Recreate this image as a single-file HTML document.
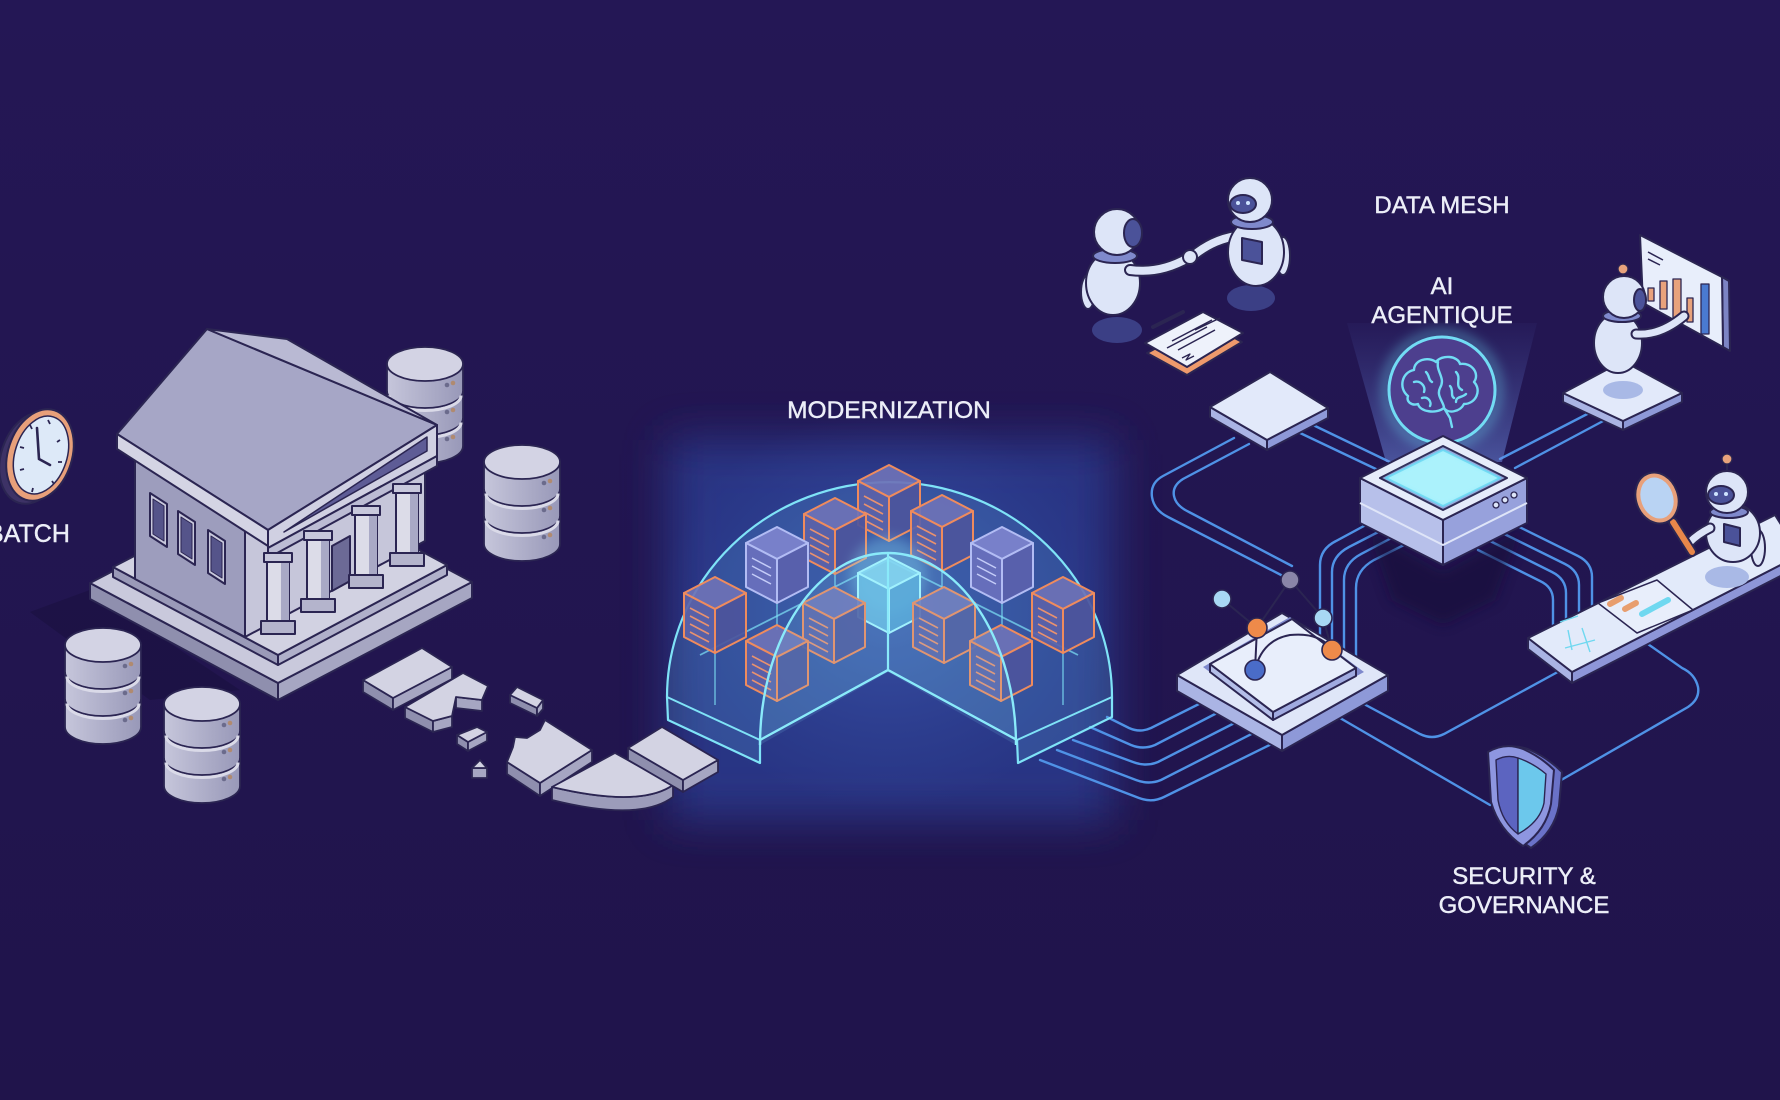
<!DOCTYPE html>
<html><head><meta charset="utf-8"><style>
html,body{margin:0;padding:0;background:#221651;}
svg{display:block;}
text{font-family:"Liberation Sans",sans-serif;fill:#eceef8;stroke:#eceef8;stroke-width:0.45;}
</style></head><body>
<svg width="1780" height="1100" viewBox="0 0 1780 1100" xmlns="http://www.w3.org/2000/svg">
<defs>
 <linearGradient id="bg" x1="0" y1="0" x2="0" y2="1"><stop offset="0" stop-color="#241755"/><stop offset="1" stop-color="#20144b"/></linearGradient>
 <radialGradient id="glowc" cx="0.5" cy="0.5" r="0.5"><stop offset="0" stop-color="#4a6fc8" stop-opacity="0.5"/><stop offset="1" stop-color="#3a58b0" stop-opacity="0"/></radialGradient>
 <filter id="b25" x="-50%" y="-50%" width="200%" height="200%"><feGaussianBlur stdDeviation="22"/></filter>
 <filter id="b6" x="-50%" y="-50%" width="200%" height="200%"><feGaussianBlur stdDeviation="6"/></filter>
 <filter id="b3" x="-50%" y="-50%" width="200%" height="200%"><feGaussianBlur stdDeviation="3"/></filter>
 <linearGradient id="cyl" x1="0" x2="1" y1="0" y2="0"><stop offset="0" stop-color="#c6c6db"/><stop offset="1" stop-color="#9898b8"/></linearGradient>
 <linearGradient id="beam" x1="0" y1="0" x2="0" y2="1"><stop offset="0" stop-color="#5a6cc8" stop-opacity="0.05"/><stop offset="1" stop-color="#7090e6" stop-opacity="0.5"/></linearGradient>
 <g id="db" stroke="#2b2552" stroke-width="1.8">
  <path d="M0,17 L0,99 A38,17 0 0 0 76,99 L76,17 Z" fill="url(#cyl)"/>
  <path d="M0,44 A38,17 0 0 0 76,44" fill="none"/>
  <path d="M2,48.5 A36,15 0 0 0 74,48.5" fill="none" stroke="#dadae8" stroke-width="3"/>
  <path d="M0,71 A38,17 0 0 0 76,71" fill="none"/>
  <path d="M2,75.5 A36,15 0 0 0 74,75.5" fill="none" stroke="#dadae8" stroke-width="3"/>
  <ellipse cx="38" cy="17" rx="38" ry="17" fill="#d3d3e4"/>
  <circle cx="60" cy="38" r="2.3" fill="#6b6b8c" stroke="none"/><circle cx="66" cy="36" r="2.3" fill="#b08a70" stroke="none"/>
  <circle cx="60" cy="65" r="2.3" fill="#6b6b8c" stroke="none"/><circle cx="66" cy="63" r="2.3" fill="#b08a70" stroke="none"/>
  <circle cx="60" cy="92" r="2.3" fill="#6b6b8c" stroke="none"/><circle cx="66" cy="90" r="2.3" fill="#b08a70" stroke="none"/>
 </g>
 <g id="cO" stroke="#ef8b5d" stroke-width="2" stroke-linejoin="round">
  <path d="M0,0 L31,16 L0,32 L-31,16 Z" fill="#6e72b6" fill-opacity="0.92"/>
  <path d="M-31,16 L0,32 L0,76 L-31,60 Z" fill="#5b62a8" fill-opacity="0.92"/>
  <path d="M0,32 L31,16 L31,60 L0,76 Z" fill="#4d559c" fill-opacity="0.92"/>
  <path d="M-25,31 L-6,41 M-25,39 L-6,49 M-25,47 L-6,57 M-25,55 L-6,65" stroke="#e9916e" stroke-width="1.6" fill="none"/>
 </g>
 <g id="cL" stroke="#b2bcf4" stroke-width="2" stroke-linejoin="round">
  <path d="M0,0 L31,16 L0,32 L-31,16 Z" fill="#7880ca"/>
  <path d="M-31,16 L0,32 L0,76 L-31,60 Z" fill="#666ebb"/>
  <path d="M0,32 L31,16 L31,60 L0,76 Z" fill="#5860ac"/>
  <path d="M-25,31 L-6,41 M-25,39 L-6,49 M-25,47 L-6,57" stroke="#c4ccf8" stroke-width="1.5" fill="none"/>
 </g>
 <g id="cC" stroke="#a6f6ff" stroke-width="2" stroke-linejoin="round">
  <path d="M0,0 L31,16 L0,32 L-31,16 Z" fill="#86d8f2" fill-opacity="0.85"/>
  <path d="M-31,16 L0,32 L0,76 L-31,60 Z" fill="#68bde4" fill-opacity="0.85"/>
  <path d="M0,32 L31,16 L31,60 L0,76 Z" fill="#55a8d8" fill-opacity="0.85"/>
 </g>
</defs>

<rect width="1780" height="1100" fill="url(#bg)"/>

<!-- glow behind modernization -->
<rect x="668" y="440" width="446" height="380" fill="#2a3a8e" opacity="0.85" filter="url(#b25)"/>
<ellipse cx="888" cy="610" rx="230" ry="200" fill="url(#glowc)"/>

<!-- ================= connectors ================= -->
<g fill="none" stroke="#4f92e6" stroke-width="2.4" stroke-linecap="round">
 <path d="M1107,717 L1129,728 Q1140,733 1151,728 L1235,686"/>
 <path d="M1090,727 L1131,745 Q1143,750 1155,745 L1248,697"/>
 <path d="M1073,740 L1133,762 Q1146,767 1158,762 L1262,709"/>
 <path d="M1057,750 L1136,780 Q1149,785 1161,780 L1275,722"/>
 <path d="M1040,760 L1139,798 Q1152,803 1164,797 L1290,735"/>
 <path d="M1234,438 L1163,476 Q1150,483 1152,497 Q1154,510 1168,517 L1283,576"/>
 <path d="M1249,444 L1183,479 Q1172,486 1174,496 Q1176,506 1189,512 L1292,566"/>
 <path d="M1298,432 L1378,470"/>
 <path d="M1313,425 L1392,463"/>
 <path d="M1375,520 L1336,541 Q1320,549 1320,565 L1320,660"/>
 <path d="M1388,527 L1349,547 Q1332,556 1332,572 L1332,665"/>
 <path d="M1401,533 L1361,554 Q1344,563 1344,580 L1344,670"/>
 <path d="M1414,540 L1374,560 Q1356,570 1356,588 L1356,675"/>
 <path d="M1500,459 L1595,410"/>
 <path d="M1515,468 L1605,420"/>
 <path d="M1478,550 L1540,581 Q1553,587 1553,600 L1553,650"/>
 <path d="M1484,538 L1552,572 Q1566,579 1566,593 L1566,650"/>
 <path d="M1490,527 L1565,564 Q1579,571 1579,585 L1579,645"/>
 <path d="M1495,515 L1578,556 Q1592,563 1592,577 L1592,640"/>
 <path d="M1362,703 L1420,734 Q1432,740 1444,734 L1565,668"/>
 <path d="M1340,718 L1490,805"/>
 <path d="M1556,783 L1688,707 Q1700,699 1698,687 Q1695,674 1682,668 L1645,642"/>
</g>

<!-- ================= dome ================= -->
<g stroke-linejoin="round">
 <path d="M667,697 A222.5,215 0 0 1 1112,697 L1112,717 L1018,763 L1017,740 L888,670 L760,740 L760,763 L668,720 Z" fill="#5aa8e0" fill-opacity="0.22" stroke="#7fe3f7" stroke-width="2.2"/>
 <path d="M667,697 L760,740 M1112,697 L1017,740" fill="none" stroke="#7fe3f7" stroke-width="2"/>
 <path d="M700,655 L888,560 L1078,655" fill="none" stroke="#7fe3f7" stroke-width="1.8" opacity="0.7"/>
 <path d="M715,653 L715,705 M777,603 L777,630 M1002,603 L1002,630 M1063,653 L1063,705 M835,574 L835,590 M942,571 L942,590" stroke="#7fe3f7" stroke-width="1.5" opacity="0.7"/>
 <use href="#cO" x="889" y="465"/>
 <use href="#cO" x="835" y="498"/>
 <use href="#cO" x="942" y="495"/>
 <use href="#cL" x="777" y="527"/>
 <use href="#cL" x="1002" y="527"/>
 <use href="#cO" x="715" y="577"/>
 <use href="#cO" x="1063" y="577"/>
 <circle cx="888" cy="575" r="38" fill="#8ff0ff" opacity="0.3" filter="url(#b6)"/>
 <use href="#cC" x="889" y="557"/>
 <use href="#cO" x="834" y="587"/>
 <use href="#cO" x="944" y="587"/>
 <use href="#cO" x="777" y="625"/>
 <use href="#cO" x="1001" y="625"/>
 <path d="M760,745 A128,192 0 0 1 1016,745 L888,672 Z" fill="#86d6f4" fill-opacity="0.14" stroke="none"/>
 <path d="M760,745 A128,192 0 0 1 1016,745" fill="none" stroke="#8aeafa" stroke-width="2.4"/>
 <path d="M760,740 L888,670 L1017,740 M888,553 L888,670" fill="none" stroke="#8aeafa" stroke-width="2.2"/>
</g>

<!-- ================= left: clock ================= -->
<g stroke="#2b2552" stroke-linejoin="round">
 <ellipse cx="33" cy="458" rx="32" ry="47" transform="rotate(18 33 458)" fill="#3d3266" stroke-width="2"/>
 <ellipse cx="40" cy="455" rx="32" ry="47" transform="rotate(18 40 455)" fill="#e8a07a" stroke-width="2"/>
 <ellipse cx="41" cy="455" rx="26" ry="40" transform="rotate(18 41 455)" fill="#dde9f8" stroke-width="1.5"/>
 <path d="M48,420 L50,424 M60,440 L57,442 M62,462 L58,462 M54,484 L52,481 M32,492 L33,488 M20,470 L24,469 M20,447 L24,448 M30,425 L32,429" stroke-width="1.8"/>
 <path d="M39,459 L37,428 M39,459 L50,465" stroke-width="2.6" stroke-linecap="round" fill="none"/>
</g>
<text x="-13" y="542" font-size="25">BATCH</text>

<use href="#db" x="387" y="347"/>

<!-- ================= building ================= -->
<g stroke="#2b2552" stroke-width="2" stroke-linejoin="round">
 <polygon points="30,612 90,590 240,690 150,700" fill="#180f3c" stroke="none" opacity="0.5"/>
 <polygon points="90,583 278,683 278,700 90,599" fill="#8f8fae"/>
 <polygon points="278,683 472,582 472,598 278,700" fill="#a6a6c2"/>
 <polygon points="90,583 284,482 472,582 278,683" fill="#c9c9dc"/>
 <polygon points="113,567 278,655 278,665 113,577" fill="#9a9ab8"/>
 <polygon points="278,655 447,565 447,575 278,665" fill="#b0b0ca"/>
 <polygon points="113,567 285,478 447,565 278,655" fill="#d2d2e2"/>
 <polygon points="135,457 245,527 245,637 135,579" fill="#9d9dbd"/>
 <polygon points="245,527 425,436 425,541 245,637" fill="#c6c6da"/>
 <polygon points="332,546 350,536 350,581 332,591" fill="#6c6a96"/>
 <polygon points="150,493 167,504 167,547 150,536" fill="#c8c8dc"/>
 <polygon points="153,499 164,506 164,541 153,534" fill="#55548a" stroke-width="1"/>
 <polygon points="178,511 195,522 195,565 178,554" fill="#c8c8dc"/>
 <polygon points="181,517 192,524 192,559 181,552" fill="#55548a" stroke-width="1"/>
 <polygon points="208,530 225,541 225,584 208,573" fill="#c8c8dc"/>
 <polygon points="211,536 222,543 222,578 211,571" fill="#55548a" stroke-width="1"/>
 <polygon points="117,434 207,329 437,425 268,530" fill="#a6a6c6"/>
 <polygon points="207,329 287,339 437,425" fill="#b9b9d3"/>
 <polygon points="117,434 268,530 268,546 117,449" fill="#d4d4e4"/>
 <polygon points="268,530 437,425 437,456 268,548" fill="#d0d0e2"/>
 <polygon points="284,532 427,437 427,451" fill="#5e5c96" stroke-width="1.5"/>
 <polygon points="268,548 437,456 437,466 268,558" fill="#bcbcd4"/>
 <g>
  <rect x="267" y="553" width="22" height="70" fill="#dcdce8"/><rect x="281" y="561" width="8" height="62" fill="#a9a9c6" stroke="none"/>
  <rect x="264" y="553" width="28" height="9" fill="#c8c8dc"/>
  <rect x="261" y="621" width="34" height="13" fill="#b4b4cc"/>
  <rect x="307" y="531" width="22" height="70" fill="#dcdce8"/><rect x="321" y="539" width="8" height="62" fill="#a9a9c6" stroke="none"/>
  <rect x="304" y="531" width="28" height="9" fill="#c8c8dc"/>
  <rect x="301" y="599" width="34" height="13" fill="#b4b4cc"/>
  <rect x="355" y="506" width="22" height="69" fill="#dcdce8"/><rect x="369" y="514" width="8" height="61" fill="#a9a9c6" stroke="none"/>
  <rect x="352" y="506" width="28" height="9" fill="#c8c8dc"/>
  <rect x="349" y="575" width="34" height="13" fill="#b4b4cc"/>
  <rect x="396" y="484" width="22" height="69" fill="#dcdce8"/><rect x="410" y="492" width="8" height="61" fill="#a9a9c6" stroke="none"/>
  <rect x="393" y="484" width="28" height="9" fill="#c8c8dc"/>
  <rect x="390" y="553" width="34" height="13" fill="#b4b4cc"/>
 </g>
</g>

<use href="#db" x="484" y="445"/>
<use href="#db" x="65" y="628"/>
<use href="#db" x="164" y="687"/>

<!-- ================= broken pieces ================= -->
<g stroke="#2b2552" stroke-width="1.8" stroke-linejoin="round">
 <polygon points="363,680 393,698 393,710 363,692" fill="#8f8fae"/>
 <polygon points="393,698 452,667 452,679 393,710" fill="#a6a6c2"/>
 <polygon points="363,680 422,648 452,667 393,698" fill="#d3d3e3"/>
 <polygon points="405,707 433,721 433,732 405,718" fill="#8f8fae"/>
 <polygon points="433,721 452,716 452,727 433,732" fill="#a6a6c2"/>
 <polygon points="456,697 482,700 482,711 456,708" fill="#a6a6c2"/>
 <polygon points="405,707 463,673 488,686 482,700 456,697 452,716 433,721" fill="#d3d3e3"/>
 <polygon points="510,695 537,708 537,716 510,703" fill="#8f8fae"/>
 <polygon points="537,708 543,700 543,709 537,716" fill="#a6a6c2"/>
 <polygon points="510,695 517,687 543,700 537,708" fill="#d3d3e3"/>
 <polygon points="457,735 468,742 468,751 457,744" fill="#8f8fae"/>
 <polygon points="468,742 487,732 487,741 468,751" fill="#a6a6c2"/>
 <polygon points="457,735 477,727 487,732 468,742" fill="#d3d3e3"/>
 <polygon points="472,768 487,768 487,778 472,778" fill="#a6a6c2"/>
 <polygon points="472,768 480,760 487,768" fill="#d3d3e3"/>
 <polygon points="507,762 540,783 540,796 507,774" fill="#8f8fae"/>
 <polygon points="540,783 592,750 592,762 540,796" fill="#a6a6c2"/>
 <polygon points="507,762 513,747 515,737 527,738 540,730 545,720 592,750 540,783" fill="#d3d3e3"/>
 <path d="M552,787 Q640,808 673,785 L673,797 Q640,822 552,800 Z" fill="#9c9cba"/>
 <path d="M552,787 L615,753 L673,785 Q640,808 552,787 Z" fill="#d3d3e3"/>
 <polygon points="628,748 683,780 683,792 628,760" fill="#8f8fae"/>
 <polygon points="683,780 718,760 718,772 683,792" fill="#a6a6c2"/>
 <polygon points="628,748 662,727 718,760 683,780" fill="#d3d3e3"/>
</g>

<!-- ================= data mesh ================= -->
<polygon points="1368,530 1443,572 1520,530 1495,600 1443,625 1392,600" fill="#150d38" opacity="0.6" filter="url(#b6)"/>

<g stroke="#2b2552" stroke-width="2" stroke-linejoin="round">
 <polygon points="1210,407 1267,440 1267,450 1210,417" fill="#aab4e4"/>
 <polygon points="1267,440 1328,408 1328,418 1267,450" fill="#8e99d8"/>
 <polygon points="1210,407 1270,372 1328,408 1267,440" fill="#e2e9fa"/>
</g>

<g stroke="#2b2552" stroke-width="2" stroke-linejoin="round">
 <polygon points="1177,675 1282,735 1282,751 1177,691" fill="#aab4e4"/>
 <polygon points="1282,735 1388,675 1388,691 1282,751" fill="#8e99d8"/>
 <polygon points="1177,675 1282,613 1388,675 1282,735" fill="#dfe6f8"/>
 <polygon points="1203,667 1290,617 1364,672 1275,720" fill="#7e88cc" stroke="none"/>
 <polygon points="1210,664 1273,712 1273,720 1210,672" fill="#b4bee8"/>
 <polygon points="1273,712 1356,668 1356,676 1273,720" fill="#a0aae0"/>
 <polygon points="1210,664 1292,619 1356,668 1273,712" fill="#e8eefb"/>
</g>
<g stroke="#2b2552" stroke-width="2" fill="none">
 <path d="M1222,599 L1257,628 L1290,580 L1323,618 L1332,650 M1257,628 L1255,670 M1255,670 Q1262,640 1290,635 Q1320,632 1332,650"/>
</g>
<g stroke="#2b2552" stroke-width="1.6">
 <circle cx="1222" cy="599" r="9" fill="#a8d8f4"/>
 <circle cx="1290" cy="580" r="9" fill="#8a86a8"/>
 <circle cx="1323" cy="618" r="9" fill="#a8d8f4"/>
 <circle cx="1257" cy="628" r="10" fill="#ee8a4a"/>
 <circle cx="1332" cy="650" r="10" fill="#ee8a4a"/>
 <circle cx="1255" cy="670" r="10" fill="#4a6cc8"/>
</g>

<polygon points="1347,323 1537,323 1502,462 1386,462" fill="url(#beam)"/>
<circle cx="1442" cy="390" r="56" fill="none" stroke="#6fe0f8" stroke-width="8" opacity="0.45" filter="url(#b6)"/>
<circle cx="1442" cy="390" r="53" fill="#4d3f8e" stroke="#72dcf4" stroke-width="3"/>
<g fill="none" stroke="#72dcf4" stroke-width="2.4" stroke-linecap="round" stroke-linejoin="round">
 <path d="M1408,396 C1398,388 1402,372 1414,370 C1414,360 1428,356 1436,362 C1442,354 1458,356 1460,364 C1472,362 1480,374 1474,382 C1482,390 1476,404 1464,404 C1460,412 1448,414 1444,408 L1450,418 L1452,427 M1444,408 C1436,414 1420,412 1418,404 C1412,406 1406,402 1408,396"/>
 <path d="M1438,362 C1436,372 1446,378 1440,388 C1436,396 1444,402 1444,408"/>
 <path d="M1414,382 C1420,380 1426,386 1424,392 M1456,372 C1462,378 1454,386 1462,390 M1422,398 C1428,396 1432,402 1430,406 M1466,394 C1462,398 1456,396 1456,402 M1426,372 C1430,376 1428,380 1432,382 M1450,386 C1454,390 1450,396 1454,398"/>
</g>

<g stroke="#2b2552" stroke-width="2" stroke-linejoin="round">
 <polygon points="1360,478 1443,520 1443,565 1360,523" fill="#b7c0ea"/>
 <polygon points="1443,520 1527,478 1527,523 1443,565" fill="#97a1dc"/>
 <path d="M1360,503 L1443,545 L1527,503" fill="none" stroke="#dfe5f8" stroke-width="2"/>
 <polygon points="1360,478 1443,436 1527,478 1443,520" fill="#e6ecfa"/>
 <polygon points="1380,478 1443,446 1507,478 1443,510" fill="#8fa0d8"/>
 <polygon points="1386,478 1443,450 1500,478 1443,506" fill="#9eeefa" stroke="#5ad0f0"/>
 <circle cx="1496" cy="505" r="3" fill="#dde5f8" stroke-width="1.3"/>
 <circle cx="1505" cy="500" r="3" fill="#dde5f8" stroke-width="1.3"/>
 <circle cx="1514" cy="495" r="3" fill="#dde5f8" stroke-width="1.3"/>
</g>
<polygon points="1386,478 1443,450 1500,478 1443,506" fill="#b8f6ff" opacity="0.5" filter="url(#b3)"/>

<g stroke="#2b2552" stroke-width="2" stroke-linejoin="round">
 <ellipse cx="1117" cy="330" rx="25" ry="13" fill="#3b3f85" stroke="none"/>
 <ellipse cx="1251" cy="298" rx="24" ry="13" fill="#3b3f85" stroke="none"/>
 <ellipse cx="1088" cy="292" rx="7" ry="17" fill="#dde5f8"/>
 <ellipse cx="1113" cy="283" rx="27" ry="32" fill="#dde5f8"/>
 <path d="M1130,270 Q1160,274 1188,258" fill="none" stroke="#2b2552" stroke-width="12" stroke-linecap="round"/>
 <path d="M1130,270 Q1160,274 1188,258" fill="none" stroke="#dde5f8" stroke-width="8" stroke-linecap="round"/>
 <ellipse cx="1115" cy="256" rx="22" ry="7" fill="#7f89cc"/>
 <circle cx="1117" cy="232" r="23" fill="#dde5f8"/>
 <ellipse cx="1133" cy="233" rx="9" ry="14" fill="#4b5299"/>
 <path d="M1236,236 Q1212,240 1193,256" fill="none" stroke="#2b2552" stroke-width="12" stroke-linecap="round"/>
 <path d="M1236,236 Q1212,240 1193,256" fill="none" stroke="#dde5f8" stroke-width="8" stroke-linecap="round"/>
 <circle cx="1190" cy="257" r="7" fill="#dde5f8"/>
 <ellipse cx="1283" cy="256" rx="7" ry="19" fill="#dde5f8"/>
 <ellipse cx="1256" cy="252" rx="28" ry="34" fill="#dde5f8"/>
 <polygon points="1242,238 1262,242 1262,264 1242,260" fill="#4b5299"/>
 <ellipse cx="1252" cy="222" rx="21" ry="7" fill="#7f89cc"/>
 <circle cx="1250" cy="200" r="22" fill="#dde5f8"/>
 <ellipse cx="1243" cy="204" rx="13" ry="9" fill="#4b5299"/>
 <circle cx="1238" cy="203" r="2" fill="#cfe4ff" stroke="none"/><circle cx="1248" cy="203" r="2" fill="#cfe4ff" stroke="none"/>
 <polygon points="1147,353 1205,322 1242,342 1187,375" fill="#ee9a6c"/>
 <polygon points="1145,343 1203,312 1243,333 1187,367" fill="#eef2fb"/>
 <path d="M1172,341 L1212,320 M1167,348 L1207,327 M1178,350 L1215,330 M1195,330 L1220,318" stroke-width="1.5" fill="none"/>
 <path d="M1182,358 L1190,354 L1186,360 L1194,356" stroke-width="1.3" fill="none"/>
 <path d="M1153,327 L1183,312" stroke-width="4" stroke-linecap="round"/>
</g>

<g stroke="#2b2552" stroke-width="2" stroke-linejoin="round">
 <polygon points="1563,393 1623,421 1623,430 1563,402" fill="#aab4e4"/>
 <polygon points="1623,421 1682,393 1682,402 1623,430" fill="#8e99d8"/>
 <polygon points="1563,393 1623,361 1682,393 1623,421" fill="#e2e9fa"/>
 <ellipse cx="1623" cy="390" rx="20" ry="9" fill="#a9b9e6" stroke="none"/>
 <polygon points="1722,277 1729,281 1730,351 1723,347" fill="#7c84c4"/>
 <polygon points="1640,235 1722,277 1723,347 1643,303" fill="#e8eefb"/>
 <path d="M1648,252 L1663,260 M1648,259 L1660,265" stroke-width="1.5"/>
 <rect x="1648" y="288" width="6" height="13" fill="#e8a27c" stroke-width="1.3"/>
 <rect x="1660" y="281" width="7" height="28" fill="#e8a27c" stroke-width="1.3"/>
 <rect x="1673" y="279" width="8" height="40" fill="#e8a27c" stroke-width="1.3"/>
 <rect x="1687" y="298" width="6" height="24" fill="#e8a27c" stroke-width="1.3"/>
 <rect x="1701" y="284" width="8" height="50" fill="#4a7ad0" stroke-width="1.3"/>
 <ellipse cx="1618" cy="343" rx="24" ry="30" fill="#dde5f8"/>
 <path d="M1636,334 Q1660,336 1684,316" fill="none" stroke="#2b2552" stroke-width="11" stroke-linecap="round"/>
 <path d="M1636,334 Q1660,336 1684,316" fill="none" stroke="#dde5f8" stroke-width="7" stroke-linecap="round"/>
 <ellipse cx="1622" cy="316" rx="19" ry="6" fill="#7f89cc"/>
 <line x1="1623" y1="272" x2="1623" y2="278"/>
 <circle cx="1624" cy="297" r="21" fill="#dde5f8"/>
 <ellipse cx="1640" cy="300" rx="6" ry="11" fill="#4b5299"/>
 <circle cx="1623" cy="269" r="5" fill="#e8a27c" stroke-width="1.3"/>
</g>

<g stroke="#2b2552" stroke-width="2" stroke-linejoin="round">
 <polygon points="1528,638 1572,672 1572,683 1528,649" fill="#aab4e4"/>
 <polygon points="1572,672 1800,555 1800,566 1572,683" fill="#8e96d8"/>
 <polygon points="1528,638 1775,515 1800,555 1572,672" fill="#e2eafa"/>
 <polygon points="1598,603 1657,580 1693,610 1637,633" fill="#e8eefb" stroke-width="1.5"/>
 <path d="M1610,604 L1621,598 M1625,609 L1636,603" stroke="#e89e6e" stroke-width="6" stroke-linecap="round"/>
 <path d="M1642,614 L1668,600" stroke="#6fd8f0" stroke-width="6" stroke-linecap="round"/>
 <path d="M1560,622 L1578,616 M1568,630 L1572,650 M1582,628 L1590,652 M1565,648 L1595,640" stroke="#6fd8f0" stroke-width="1.4" fill="none"/>
 <ellipse cx="1727" cy="577" rx="22" ry="11" fill="#a9b9e6" stroke="none"/>
 <ellipse cx="1758" cy="548" rx="7" ry="18" fill="#dde5f8"/>
 <ellipse cx="1733" cy="533" rx="27" ry="29" fill="#dde5f8"/>
 <polygon points="1724,524 1740,528 1740,546 1724,542" fill="#4b5299"/>
 <ellipse cx="1729" cy="512" rx="19" ry="6" fill="#7f89cc"/>
 <line x1="1727" y1="463" x2="1727" y2="471"/>
 <circle cx="1727" cy="492" r="21" fill="#dde5f8"/>
 <ellipse cx="1721" cy="495" rx="13" ry="9" fill="#4b5299"/>
 <circle cx="1716" cy="494" r="2" fill="#cfe4ff" stroke="none"/><circle cx="1726" cy="494" r="2" fill="#cfe4ff" stroke="none"/>
 <circle cx="1727" cy="459" r="5" fill="#e8a27c" stroke-width="1.3"/>
 <path d="M1710,528 Q1698,534 1690,542" fill="none" stroke="#2b2552" stroke-width="11" stroke-linecap="round"/>
 <path d="M1710,528 Q1698,534 1690,542" fill="none" stroke="#dde5f8" stroke-width="7" stroke-linecap="round"/>
 <line x1="1673" y1="522" x2="1692" y2="552" stroke="#2b2552" stroke-width="10" stroke-linecap="round"/>
 <line x1="1673" y1="522" x2="1692" y2="552" stroke="#e8874a" stroke-width="6" stroke-linecap="round"/>
 <ellipse cx="1657" cy="498" rx="18" ry="23" transform="rotate(-20 1657 498)" fill="#b9d3f3" stroke="#2b2552" stroke-width="8"/>
 <ellipse cx="1657" cy="498" rx="18" ry="23" transform="rotate(-20 1657 498)" fill="#b9d3f3" stroke="#e8a07a" stroke-width="4"/>
</g>

<g stroke="#2b2552" stroke-width="2" stroke-linejoin="round">
 <path d="M1495,752 Q1512,742 1530,750 Q1548,758 1562,772 L1559,806 Q1554,832 1531,848 Q1507,832 1499,804 Z" fill="#6a72c8"/>
 <path d="M1488,752 Q1505,742 1523,749 Q1541,757 1554,770 L1551,804 Q1546,830 1523,846 Q1499,830 1491,802 Z" fill="#8e96e0"/>
 <path d="M1496,760 Q1507,754 1518,758 L1518,834 Q1502,822 1498,800 Z" fill="#5c64c0" stroke-width="1.4"/>
 <path d="M1518,758 Q1533,763 1546,774 L1544,803 Q1540,822 1518,834 Z" fill="#6cc8ec" stroke-width="1.4"/>
</g>

<text x="889" y="418" font-size="24.5" text-anchor="middle">MODERNIZATION</text>
<text x="1442" y="213" font-size="24" text-anchor="middle">DATA MESH</text>
<text x="1442" y="294" font-size="24" text-anchor="middle">AI</text>
<text x="1442" y="323" font-size="24" text-anchor="middle">AGENTIQUE</text>
<text x="1524" y="884" font-size="24" text-anchor="middle">SECURITY &amp;</text>
<text x="1524" y="913" font-size="24" text-anchor="middle">GOVERNANCE</text>
</svg>
</body></html>
